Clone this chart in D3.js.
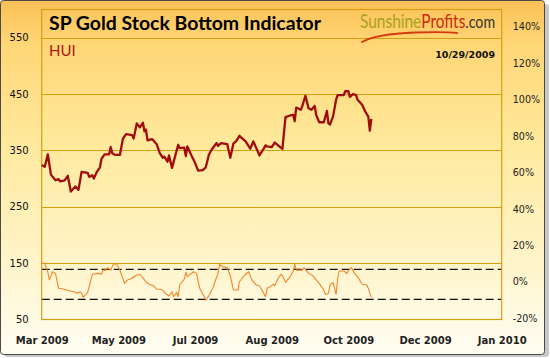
<!DOCTYPE html>
<html><head><meta charset="utf-8">
<script src="https://cdn.jsdelivr.net/npm/d3@7"></script>
<style>body{margin:0;background:#fff}svg{display:block}</style>
</head><body><svg id="c" width="550" height="358"></svg>
<script>
// ---------- data ----------
const huiDates = ["2009-03-28","2009-03-30","2009-04-01","2009-04-03","2009-04-06","2009-04-08","2009-04-09","2009-04-12","2009-04-14","2009-04-16","2009-04-19","2009-04-21","2009-04-23","2009-04-27","2009-04-28","2009-04-30","2009-05-01","2009-05-03","2009-05-05","2009-05-06","2009-05-08","2009-05-11","2009-05-12","2009-05-13","2009-05-15","2009-05-18","2009-05-20","2009-05-22","2009-05-26","2009-05-27","2009-05-29","2009-05-31","2009-06-02","2009-06-03","2009-06-04","2009-06-05","2009-06-08","2009-06-09","2009-06-11","2009-06-13","2009-06-15","2009-06-16","2009-06-18","2009-06-19","2009-06-21","2009-06-25","2009-06-26","2009-06-29","2009-06-30","2009-07-01","2009-07-04","2009-07-06","2009-07-08","2009-07-11","2009-07-13","2009-07-15","2009-07-17","2009-07-20","2009-07-21","2009-07-23","2009-07-27","2009-07-29","2009-07-31","2009-08-02","2009-08-04","2009-08-05","2009-08-08","2009-08-11","2009-08-13","2009-08-15","2009-08-17","2009-08-20","2009-08-21","2009-08-22","2009-08-25","2009-08-27","2009-08-30","2009-09-01","2009-09-03","2009-09-06","2009-09-08","2009-09-09","2009-09-10","2009-09-13","2009-09-14","2009-09-16","2009-09-18","2009-09-20","2009-09-22","2009-09-23","2009-09-25","2009-09-28","2009-09-30","2009-10-01","2009-10-02","2009-10-04","2009-10-06","2009-10-07","2009-10-11","2009-10-12","2009-10-14","2009-10-15","2009-10-17","2009-10-19","2009-10-20","2009-10-23","2009-10-25","2009-10-27","2009-10-28","2009-10-29"];
const huiValues = [324,321,343,307,297,299,295,297,305,277,286,280,312,310,303,306,300,312,320,335,343,343,356,345,342,342,371,379,377,371,398,391,399,384,387,368,370,367,361,345,337,339,330,341,319,360,354,355,340,357,339,328,314,315,320,342,352,363,358,363,361,337,362,367,376,373,366,353,366,354,341,354,359,357,356,364,357,353,409,412,413,402,426,422,429,447,425,422,429,413,400,400,420,398,396,410,440,448,448,455,455,445,450,448,440,431,419,410,385,406];

const oscDates = ["2009-03-28","2009-03-30","2009-04-01","2009-04-02","2009-04-04","2009-04-06","2009-04-08","2009-04-11","2009-04-15","2009-04-19","2009-04-20","2009-04-22","2009-04-23","2009-04-24","2009-04-27","2009-04-30","2009-05-04","2009-05-06","2009-05-07","2009-05-09","2009-05-10","2009-05-12","2009-05-13","2009-05-14","2009-05-16","2009-05-18","2009-05-21","2009-05-23","2009-05-26","2009-05-28","2009-05-31","2009-06-03","2009-06-04","2009-06-06","2009-06-09","2009-06-11","2009-06-13","2009-06-15","2009-06-16","2009-06-19","2009-06-21","2009-06-22","2009-06-24","2009-06-25","2009-06-26","2009-06-29","2009-06-30","2009-07-01","2009-07-05","2009-07-07","2009-07-09","2009-07-12","2009-07-13","2009-07-15","2009-07-18","2009-07-19","2009-07-21","2009-07-22","2009-07-24","2009-07-27","2009-07-29","2009-07-31","2009-08-03","2009-08-04","2009-08-07","2009-08-10","2009-08-12","2009-08-15","2009-08-17","2009-08-19","2009-08-21","2009-08-22","2009-08-24","2009-08-26","2009-08-27","2009-08-29","2009-08-31","2009-09-01","2009-09-03","2009-09-06","2009-09-08","2009-09-09","2009-09-10","2009-09-14","2009-09-15","2009-09-18","2009-09-21","2009-09-23","2009-09-25","2009-09-28","2009-09-29","2009-10-01","2009-10-02","2009-10-04","2009-10-06","2009-10-07","2009-10-08","2009-10-11","2009-10-13","2009-10-14","2009-10-16","2009-10-18","2009-10-20","2009-10-22","2009-10-23","2009-10-26","2009-10-27","2009-10-29"];
const oscValues = [10.8,10.8,6.0,1.7,6.2,5.3,-2.9,-3.3,-4.2,-5.1,-5.6,-4.8,-5.5,-7.8,-5.1,4.8,5.3,4.8,7.1,7.1,8.4,7.0,9.0,10.6,10.3,7.1,-0.2,1.7,2.6,4.0,4.8,1.7,0.7,-0.7,-1.5,-3.3,-3.4,-3.8,-5.1,-7.1,-4.8,-7.5,-5.1,-7.5,-1.1,2.2,5.9,3.5,6.2,5.3,-2.9,-7.5,-9.5,-7.1,-2.0,0.7,5.3,10.3,9.0,8.4,4.0,-3.8,-3.8,0.7,4.0,6.2,1.7,-1.1,-1.5,-4.4,-7.5,-2.9,-2.0,-0.7,-1.5,2.2,4.8,4.0,0.4,3.5,6.6,10.3,7.1,7.1,8.4,5.3,4.0,1.7,-0.2,-3.8,-6.2,-5.6,-1.1,0.4,-6.2,2.2,6.6,6.6,5.3,6.6,8.4,5.3,3.5,0.7,-0.7,-1.1,-2.9,-8.0];

const bandLevels = [7.5, -9];
const leftTicks = [50,150,250,350,450,550];
const rightTicks = [-20,0,20,40,60,80,100,120,140];
const xTickDates = ["2009-03-28","2009-05-17","2009-07-06","2009-08-25","2009-10-14","2009-12-03","2010-01-22"];

// ---------- layout ----------
const L = 41.7, R = 501.7, T = 9.5, B = 319.5;
const parse = d3.timeParse("%Y-%m-%d");
const svg = d3.select("#c");

const x = d3.scaleTime().domain([parse("2009-03-28"), parse("2010-01-22")]).range([L, R]);
const yL = d3.scaleLinear().domain([50, 600]).range([B, T]);
const yR = d3.scaleLinear().domain([-20, 150]).range([B, T]);

// gradients
const defs = svg.append("defs");
const g1 = defs.append("linearGradient").attr("id","bg").attr("x1",0).attr("y1",0).attr("x2",0).attr("y2",1);
[[0,"#fbc057"],[0.12,"#ffd675"],[0.4,"#ffe99c"],[0.75,"#fff5cc"],[1,"#fffdf3"]].forEach(s=>g1.append("stop").attr("offset",s[0]).attr("stop-color",s[1]));

// shadow + frame
svg.append("rect").attr("x",4).attr("y",4).attr("width",545).attr("height",353).attr("rx",3).attr("fill","#c8c8c8");
svg.append("rect").attr("x",0.5).attr("y",0.5).attr("width",544).attr("height",354).attr("rx",3)
  .attr("fill","url(#bg)").attr("stroke","#4a4a4a").attr("stroke-width",1);

const gold = "#d4a010";

// gridlines
svg.append("g").selectAll("line").data(leftTicks.filter(v=>v>50)).join("line")
  .attr("x1",L).attr("x2",R).attr("y1",d=>Math.round(yL(d))+0.5).attr("y2",d=>Math.round(yL(d))+0.5)
  .attr("stroke",gold).attr("stroke-width",1);

// band dashed lines
svg.append("g").selectAll("line").data(bandLevels).join("line")
  .attr("x1",L).attr("x2",R).attr("y1",d=>yR(d)).attr("y2",d=>yR(d))
  .attr("stroke","#111").attr("stroke-width",1.3).attr("stroke-dasharray","8,4");

// plot border
svg.append("rect").attr("x",L).attr("y",T).attr("width",R-L).attr("height",B-T)
  .attr("fill","none").attr("stroke",gold).attr("stroke-width",1.2);

// series
const hui = huiDates.map((d,i)=>({d:parse(d), v:huiValues[i]}));
const osc = oscDates.map((d,i)=>({d:parse(d), v:oscValues[i]}));

svg.append("path").datum(osc)
  .attr("d", d3.line().x(p=>x(p.d)).y(p=>yR(p.v)))
  .attr("fill","none").attr("stroke","#f0862a").attr("stroke-width",1.1).attr("stroke-linejoin","round");

svg.append("path").datum(hui)
  .attr("d", d3.line().x(p=>x(p.d)).y(p=>yL(p.v)))
  .attr("fill","none").attr("stroke","#a00d0d").attr("stroke-width",2.3).attr("stroke-linejoin","round");

// axes (labels only)
const axL = svg.append("g").attr("transform",`translate(${L},0)`)
  .call(d3.axisLeft(yL).tickValues(leftTicks).tickSize(0).tickPadding(13));
const axR = svg.append("g").attr("transform",`translate(${R},0)`)
  .call(d3.axisRight(yR).tickValues(rightTicks).tickSize(0).tickPadding(11).tickFormat(d=>d+"%"));
const axB = svg.append("g").attr("transform",`translate(0,${B})`)
  .call(d3.axisBottom(x).tickValues(xTickDates.map(parse)).tickSize(0).tickPadding(17).tickFormat(d3.timeFormat("%b %Y")));
[axL,axR,axB].forEach(a=>{a.select(".domain").remove();});
axL.selectAll("text").attr("font-family","DejaVu Sans").attr("font-size",10).attr("fill","#111");
axR.selectAll("text").attr("font-family","DejaVu Sans").attr("font-size",9.6).attr("fill","#222").attr("dy","0.2em");
axB.selectAll("text").attr("font-family","DejaVu Sans").attr("font-weight","bold").attr("font-size",10).attr("fill","#222");

// titles
svg.append("text").attr("x",49).attr("y",30).text("SP Gold Stock Bottom Indicator")
  .attr("font-family","Lato").attr("font-weight","bold").attr("font-size",18.5)
  .attr("textLength",272).attr("lengthAdjust","spacingAndGlyphs").attr("fill","#000");
svg.append("text").attr("x",49).attr("y",56).text("HUI")
  .attr("font-family","Lato").attr("font-size",15).attr("fill","#b01515");
svg.append("text").attr("x",495).attr("y",58).attr("text-anchor","end").text("10/29/2009")
  .attr("font-family","DejaVu Sans").attr("font-weight","bold").attr("font-size",9.5).attr("fill","#111");

// logo (single text, horizontally scaled to fit)
const logo = svg.append("g");
logo.append("path").attr("d","M362,42 Q376,34 415,32.5 Q445,31.5 457,33")
  .attr("fill","none").attr("stroke","#d63a10").attr("stroke-width",1.9).attr("stroke-linecap","round");
const lt = logo.append("text").attr("font-family","Lato").attr("font-size",18.5);
lt.append("tspan").attr("fill","#a8a21e").text("Sunshine");
lt.append("tspan").attr("fill","#cc2a10").text("Profits");
lt.append("tspan").attr("fill","#333").attr("font-size",17).text(".com");
const w = lt.node().getComputedTextLength() || 150;
lt.attr("transform",`translate(360,28) scale(${135/w},1)`);
</script></body></html>
